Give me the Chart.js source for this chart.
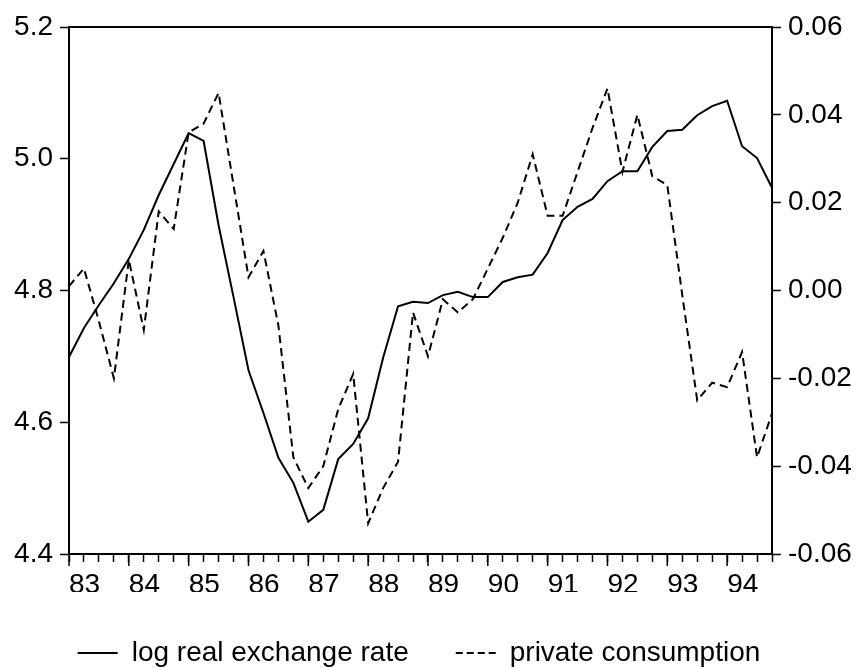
<!DOCTYPE html>
<html>
<head>
<meta charset="utf-8">
<script src="https://cdn.jsdelivr.net/npm/chart.js@4.4.1/dist/chart.umd.min.js"></script>
<style>
  html, body { margin: 0; padding: 0; background: #fff; }
  canvas { display: block; }
</style>
</head>
<body>
<canvas id="myChart" width="862" height="668"></canvas>
<script>
// quarterly observations, 1983Q1 - 1994Q4
const quarters = [
    '1983Q1', '1983Q2', '1983Q3', '1983Q4', '1984Q1', '1984Q2', '1984Q3', '1984Q4',
    '1985Q1', '1985Q2', '1985Q3', '1985Q4', '1986Q1', '1986Q2', '1986Q3', '1986Q4',
    '1987Q1', '1987Q2', '1987Q3', '1987Q4', '1988Q1', '1988Q2', '1988Q3', '1988Q4',
    '1989Q1', '1989Q2', '1989Q3', '1989Q4', '1990Q1', '1990Q2', '1990Q3', '1990Q4',
    '1991Q1', '1991Q2', '1991Q3', '1991Q4', '1992Q1', '1992Q2', '1992Q3', '1992Q4',
    '1993Q1', '1993Q2', '1993Q3', '1993Q4', '1994Q1', '1994Q2', '1994Q3', '1994Q4'
];
const yearLabels = ['83', '84', '85', '86', '87', '88', '89', '90', '91', '92', '93', '94'];

const exchangeRate = [
    4.699, 4.743, 4.778, 4.811, 4.848, 4.892, 4.945, 4.992,
    5.039, 5.027, 4.899, 4.790, 4.679, 4.614, 4.546, 4.508,
    4.449, 4.467, 4.544, 4.567, 4.606, 4.698, 4.776, 4.783,
    4.781, 4.793, 4.798, 4.790, 4.790, 4.813, 4.820, 4.824,
    4.857, 4.907, 4.927, 4.939, 4.966, 4.981, 4.981, 5.018,
    5.042, 5.044, 5.066, 5.080, 5.088, 5.019, 5.001, 4.956
];
const consumption = [
    0.001, 0.005, -0.007, -0.020, 0.007, -0.009, 0.018, 0.014,
    0.036, 0.038, 0.045, 0.024, 0.003, 0.009, -0.008, -0.038,
    -0.045, -0.040, -0.027, -0.019, -0.053, -0.045, -0.039, -0.005,
    -0.015, -0.002, -0.005, -0.002, 0.005, 0.012, 0.020, 0.031,
    0.017, 0.017, 0.027, 0.037, 0.046, 0.027, 0.040, 0.026,
    0.024, -0.001, -0.025, -0.021, -0.022, -0.014, -0.038, -0.028
];

const leftTicks = [4.4, 4.6, 4.8, 5.0, 5.2];
const rightTicks = [-0.06, -0.04, -0.02, 0.00, 0.02, 0.04, 0.06];

const fontFamily = '"Liberation Sans", Arial, sans-serif';
const fontSize = 28;

// top border of the frame and the longer year ticks on the x axis
const frameAndTicks = {
    id: 'frameAndTicks',
    afterLayout(chart) {
        // legend sits a little left of centre in the original
        chart.legend.right -= 24;
    },
    afterDraw(chart) {
        const { ctx, chartArea } = chart;
        const xScale = chart.scales.x;
        ctx.save();
        ctx.strokeStyle = '#000';
        ctx.lineWidth = 2;
        ctx.beginPath();
        ctx.moveTo(chartArea.left - 1, chartArea.top);
        ctx.lineTo(chartArea.right + 1, chartArea.top);
        ctx.stroke();
        ctx.lineWidth = 1.5;
        quarters.forEach(function (q, i) {
            if (i % 4 !== 0) return;
            const px = xScale.getPixelForValue(i);
            ctx.beginPath();
            ctx.moveTo(px, chartArea.bottom);
            ctx.lineTo(px, chartArea.bottom + 12);
            ctx.stroke();
        });
        ctx.restore();
    }
};

document.addEventListener('DOMContentLoaded', function () {
    createChart();
});

function createChart() {
    const ctx = document.getElementById('myChart').getContext('2d');
    new Chart(ctx, {
        type: 'line',
        data: {
            labels: quarters,
            datasets: [{
                label: 'log real exchange rate',
                data: exchangeRate,
                yAxisID: 'yLeft',
                borderColor: '#000',
                backgroundColor: '#000',
                borderWidth: 2,
                pointRadius: 0,
                tension: 0
            }, {
                label: 'private consumption',
                data: consumption,
                yAxisID: 'yRight',
                borderColor: '#000',
                backgroundColor: '#000',
                borderWidth: 2,
                borderDash: [8, 5],
                pointRadius: 0,
                tension: 0
            }]
        },
        options: {
            responsive: false,
            animation: false,
            devicePixelRatio: 1,
            layout: {
                padding: { top: 27, right: 0, bottom: -9, left: 0 }
            },
            plugins: {
                legend: {
                    position: 'bottom',
                    labels: {
                        usePointStyle: true,
                        pointStyle: 'line',
                        pointStyleWidth: 40,
                        padding: 47,
                        color: '#000',
                        font: { family: fontFamily, size: fontSize },
                        generateLabels: function (chart) {
                            const items = Chart.defaults.plugins.legend.labels.generateLabels(chart);
                            items.forEach(function (item) {
                                const ds = chart.data.datasets[item.datasetIndex];
                                item.lineDash = ds.borderDash ? [7, 4] : [];
                                item.lineWidth = 1.8;
                            });
                            return items;
                        }
                    }
                },
                tooltip: { enabled: false }
            },
            scales: {
                x: {
                    offset: false,
                    grid: {
                        drawOnChartArea: false,
                        tickLength: 8,
                        tickColor: '#000',
                        tickWidth: 1.5
                    },
                    border: { display: true, color: '#000', width: 2 },
                    ticks: {
                        autoSkip: false,
                        maxRotation: 0,
                        align: 'start',
                        padding: 6,
                        color: '#000',
                        font: { family: fontFamily, size: fontSize },
                        callback: function (val, i) {
                            return i % 4 === 0 ? yearLabels[i / 4] : '';
                        }
                    },
                    afterFit: function (scale) { scale.height = 38; }
                },
                yLeft: {
                    position: 'left',
                    min: leftTicks[0],
                    max: leftTicks[leftTicks.length - 1],
                    grid: {
                        drawOnChartArea: false,
                        tickLength: 9,
                        tickColor: '#000',
                        tickWidth: 1.5
                    },
                    border: { display: true, color: '#000', width: 2 },
                    ticks: {
                        stepSize: 0.2,
                        padding: 7,
                        color: '#000',
                        font: { family: fontFamily, size: fontSize },
                        callback: function (v) { return v.toFixed(1); }
                    },
                    afterFit: function (scale) { scale.width = 69; }
                },
                yRight: {
                    position: 'right',
                    min: rightTicks[0],
                    max: rightTicks[rightTicks.length - 1],
                    grid: {
                        drawOnChartArea: false,
                        tickLength: 9,
                        tickColor: '#000',
                        tickWidth: 1.5
                    },
                    border: { display: true, color: '#000', width: 2 },
                    ticks: {
                        stepSize: 0.02,
                        padding: 7,
                        color: '#000',
                        font: { family: fontFamily, size: fontSize },
                        callback: function (v) { return v.toFixed(2); }
                    },
                    afterFit: function (scale) { scale.width = 90; }
                }
            }
        },
        plugins: [frameAndTicks]
    });
}
</script>
</body>
</html>
